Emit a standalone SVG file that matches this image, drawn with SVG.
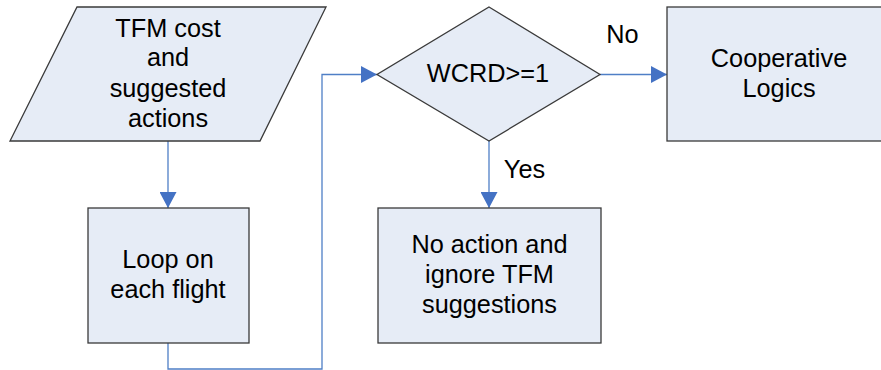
<svg xmlns="http://www.w3.org/2000/svg" width="881" height="370" viewBox="0 0 881 370">
  <style>
    .shape { fill: #E6ECF6; stroke: #3a3a3a; stroke-width: 1.3; }
    .label { font-family: "Liberation Sans", Arial, sans-serif; font-size: 25.3px; fill: #000; text-anchor: middle; }
    .edge { fill: none; stroke: #4F7FC6; stroke-width: 1.3; }
  </style>
  <defs>
    <marker id="arrow" viewBox="0 0 16 17" refX="16" refY="8.5" markerWidth="16" markerHeight="17" markerUnits="userSpaceOnUse" orient="auto">
      <path d="M0,0 L16,8.5 L0,17 Z" fill="#4472C4"/>
    </marker>
  </defs>

  <rect width="881" height="370" fill="#ffffff"/>

  <g id="connectors">
    <path class="edge" d="M168,141 L168,208" marker-end="url(#arrow)"/>
    <path class="edge" d="M168,343 L168,369 L322,369 L322,74.5 L377,74.5" marker-end="url(#arrow)"/>
    <path class="edge" d="M600,74.5 L667,74.5" marker-end="url(#arrow)"/>
    <path class="edge" d="M489,141 L489,208" marker-end="url(#arrow)"/>
    <text class="label" x="622.5" y="43">No</text>
    <text class="label" x="524.5" y="178">Yes</text>
  </g>

  <g id="tfm-input">
    <polygon class="shape" points="77,7 326,7 260,141 10,141"/>
    <text class="label" x="168" y="37">TFM cost</text>
    <text class="label" x="168" y="66">and</text>
    <text class="label" x="168" y="97">suggested</text>
    <text class="label" x="168" y="127">actions</text>
  </g>

  <g id="loop-flight">
    <rect class="shape" x="88" y="208" width="161" height="135"/>
    <text class="label" x="168" y="268">Loop on</text>
    <text class="label" x="168" y="298">each flight</text>
  </g>

  <g id="wcrd-decision">
    <polygon class="shape" points="489,7 600,74.5 489,141 377,74.5"/>
    <text class="label" x="488" y="82">WCRD&gt;=1</text>
  </g>

  <g id="cooperative-logics">
    <rect class="shape" x="667" y="7" width="224" height="134"/>
    <text class="label" x="779" y="67">Cooperative</text>
    <text class="label" x="779" y="97">Logics</text>
  </g>

  <g id="no-action">
    <rect class="shape" x="378" y="208" width="223" height="135"/>
    <text class="label" x="489.5" y="253">No action and</text>
    <text class="label" x="489.5" y="283">ignore TFM</text>
    <text class="label" x="489.5" y="313">suggestions</text>
  </g>
</svg>
